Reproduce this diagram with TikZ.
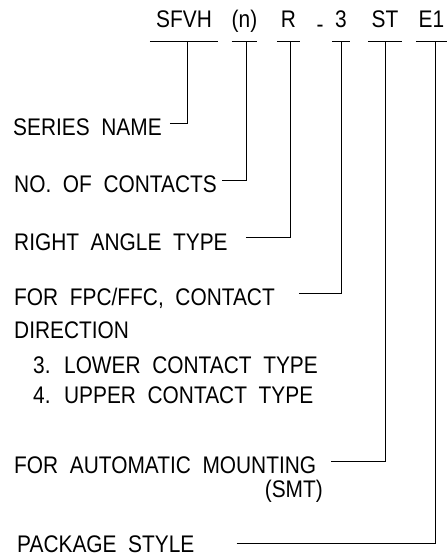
\documentclass[tikz,border=0pt]{standalone}
\usepackage{fontspec}
\setmainfont{Liberation Sans}[FakeStretch=0.87,WordSpace=2]
\begin{document}
\begin{tikzpicture}[x=1pt,y=-1pt,
    codepart/.style={inner sep=0pt,anchor=base,font=\fontsize{24}{28}\selectfont},
    partname/.style={inner sep=0pt,anchor=base west,font=\fontsize{24}{28}\selectfont},
    leader/.style={line width=0.8pt}]
    \useasboundingbox (0,0) rectangle (447,558);

    % part number
    \node [codepart, minimum width=68pt] (sfvh) at (184,27) {SFVH};
    \node [codepart, minimum width=25pt] (num) at (244.5,27) {(n)};
    \node [codepart, minimum width=23pt] (ra) at (288.5,27) {R};
    \node [codepart] (dash) at (320,32) {-};
    \node [codepart, minimum width=18pt] (dir3) at (341,27) {3};
    \node [codepart, minimum width=34pt] (st) at (385,27) {ST};
    \node [codepart, minimum width=31pt] (e1) at (431.5,27) {E1};
    \foreach \p in {sfvh,num,ra,dir3,st,e1}
        \draw [leader] ([yshift=-14pt]\p.base west) -- ([yshift=-14pt]\p.base east);

    \coordinate (t1) at (187,41);
    \coordinate (t2) at (246,41);
    \coordinate (t3) at (290,41);
    \coordinate (t4) at (341,41);
    \coordinate (t5) at (385,41);
    \coordinate (t6) at (435,41);

    % descriptions
    \node [partname] (series) at (13,135) {SERIES NAME};
    \node [partname] (contacts) at (14,192) {NO. OF CONTACTS};
    \node [partname] (angle) at (14,250) {RIGHT ANGLE TYPE};
    \node [partname] (fpc) at (14,305) {FOR FPC/FFC, CONTACT};
    \node [partname] (direction) at (14,338) {DIRECTION};
    \node [partname] (lower) at (33,373) {3. LOWER CONTACT TYPE};
    \node [partname] (upper) at (33,403) {4. UPPER CONTACT TYPE};
    \node [partname] (smt) at (14,473) {FOR AUTOMATIC MOUNTING};
    \node [partname, anchor=base east] (smtb) at (323,497) {(SMT)};
    \node [partname] (package) at (17,552) {PACKAGE STYLE};

    % leaders
    \draw [leader] ([shift={(8,-12)}]series.base east) -| (t1);
    \draw [leader] ([shift={(5,-12)}]contacts.base east) -| (t2);
    \draw [leader] ([shift={(18,-13)}]angle.base east) -| (t3);
    \draw [leader] ([shift={(24,-12)}]fpc.base east) -| (t4);
    \draw [leader] ([shift={(15,-12)}]smt.base east) -| (t5);
    \draw [leader] ([shift={(42,-9)}]package.base east) -| (t6);
\end{tikzpicture}
\end{document}
